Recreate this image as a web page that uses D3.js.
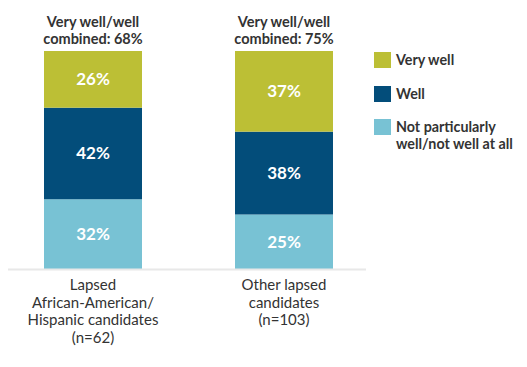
<!DOCTYPE html>
<html><head><meta charset="utf-8">
<script src="https://cdn.jsdelivr.net/npm/d3@7"></script>
<style>body{margin:0;background:#fff}svg{display:block}text{font-family:Lato,"Open Sans",sans-serif}</style>
</head><body>
<script>
const categories = ["Lapsed African-American/Hispanic candidates", "Other lapsed candidates"];
const catLabels = [["Lapsed","African-American/","Hispanic candidates","(n=62)"],["Other lapsed","candidates","(n=103)"]];
const combinedLabels = ["Very well/well combined: 68%", "Very well/well combined: 75%"];
const seriesNames = ["Not particularly well/not well at all", "Well", "Very well"];
const notWell = [32, 25];
const well = [42, 38];
const veryWell = [26, 37];
const colors = ["#78c2d4", "#034d7a", "#bcbf35"];

const W = 527, H = 367;
const svg = d3.select("body").append("svg").attr("width", W).attr("height", H);
const xs = d3.scalePoint().domain(categories).range([93, 284]);
const barW = 98;
const y = d3.scaleLinear().domain([0, 100]).range([269, 51]);

const rows = categories.map((c, i) => ({cat: c, "Not particularly well/not well at all": notWell[i], "Well": well[i], "Very well": veryWell[i]}));
const stack = d3.stack().keys(seriesNames)(rows);

const g = svg.append("g");
stack.forEach((s, si) => {
  g.selectAll(null).data(s).enter().append("rect")
    .attr("x", d => xs(d.data.cat) - barW / 2)
    .attr("width", barW)
    .attr("y", d => y(d[1]))
    .attr("height", d => y(d[0]) - y(d[1]))
    .attr("fill", colors[si]);
  g.selectAll(null).data(s).enter().append("text")
    .attr("x", d => xs(d.data.cat))
    .attr("y", d => (y(d[0]) + y(d[1])) / 2 + 6)
    .attr("text-anchor", "middle")
    .attr("fill", "#fff").attr("font-weight", "bold").attr("font-size", 17)
    .text(d => (d[1] - d[0]) + "%");
});

// baseline axis
svg.append("line").attr("x1", 8).attr("x2", 366).attr("y1", y(0) + 0.5).attr("y2", y(0) + 0.5)
  .attr("stroke", "#e8e8e8").attr("stroke-width", 2);

// combined labels
combinedLabels.forEach((t, i) => {
  const parts = [t.slice(0, t.indexOf(" combined")), t.slice(t.indexOf("combined"))];
  const tx = svg.append("text").attr("x", xs(categories[i])).attr("text-anchor", "middle")
    .attr("font-weight", "bold").attr("font-size", 14.5).attr("fill", "#333");
  parts.forEach((p, j) => tx.append("tspan").attr("x", xs(categories[i])).attr("y", 27 + j * 17).text(p));
});

// category labels
catLabels.forEach((lines, i) => {
  const tx = svg.append("text").attr("text-anchor", "middle").attr("font-size", 15).attr("fill", "#333");
  lines.forEach((l, j) => tx.append("tspan").attr("x", xs(categories[i])).attr("y", 290 + j * 17.7).text(l));
});

// legend
const legendItems = [
  {lines: ["Very well"], color: colors[2], y: 52},
  {lines: ["Well"], color: colors[1], y: 86},
  {lines: ["Not particularly", "well/not well at all"], color: colors[0], y: 119}
];
const lg = svg.append("g");
legendItems.forEach(it => {
  lg.append("rect").attr("x", 374).attr("y", it.y).attr("width", 17).attr("height", 16).attr("fill", it.color);
  const tx = lg.append("text").attr("font-size", 14.3).attr("font-weight", "bold").attr("fill", "#333");
  it.lines.forEach((l, j) => tx.append("tspan").attr("x", 396).attr("y", it.y + 13 + j * 17).text(l));
});
</script>
</body></html>
